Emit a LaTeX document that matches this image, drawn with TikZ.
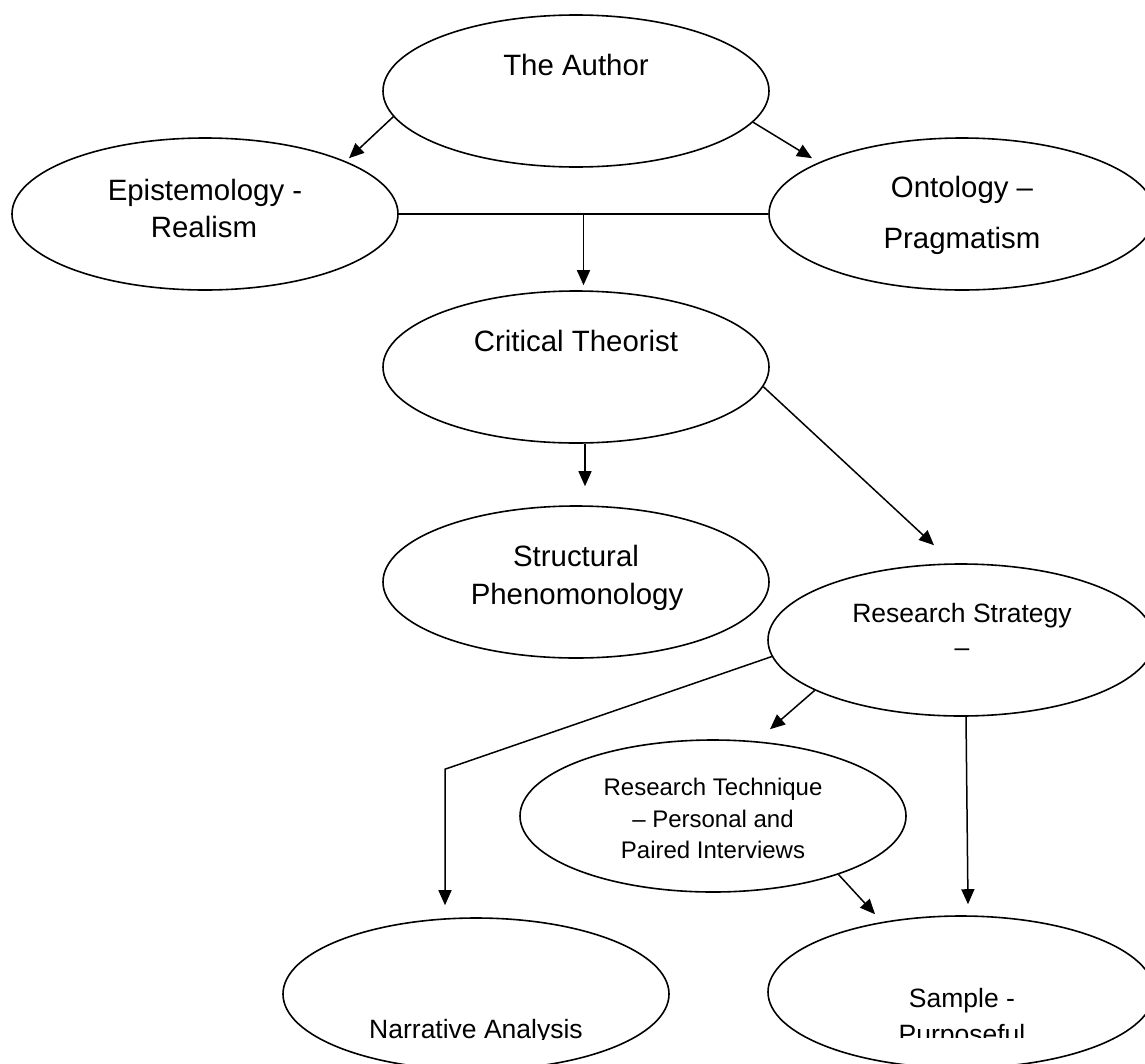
\documentclass[tikz,border=0pt]{standalone}
\usepackage{fontspec}
\setmainfont{Liberation Sans}
\usetikzlibrary{shapes.geometric,arrows.meta,calc}
\begin{document}
\begin{tikzpicture}[x=1pt,y=-1pt,
  oval/.style={ellipse,draw,line width=1.6pt,minimum width=386pt,minimum height=152pt,inner sep=0pt},
  conn/.style={line width=1.5pt},
  arr/.style={conn,-{Triangle[length=15pt,width=13pt]}},
  bigtxt/.style={font=\fontsize{29.4pt}{35pt}\selectfont,anchor=base,inner sep=0pt},
  medtxt/.style={font=\fontsize{26.5pt}{32pt}\selectfont,anchor=base,inner sep=0pt},
  rttxt/.style={font=\fontsize{24pt}{29pt}\selectfont,anchor=base,inner sep=0pt}]
\clip (0,0) rectangle (1145,1063);
\fill[white] (0,0) rectangle (1145,1063);
% ellipses
\node[oval] (author) at (576,91) {};
\node[oval] (epist) at (205,214) {};
\node[oval] (ont) at (962,214) {};
\node[oval] (crit) at (576,367) {};
\node[oval] (struct) at (576,582) {};
\node[oval] (rs) at (961,640) {};
\node[oval] (rt) at (713,816) {};
\node[oval] (narr) at (476,994) {};
\node[oval] (sample) at (961,992) {};
% texts
\node[bigtxt] (tAuthor) at (576,75) {The Author};
\node[bigtxt] (tEp1) at (205,200) {Epistemology -};
\node[bigtxt] (tEp2) at (204,237) {Realism};
\node[bigtxt] (tOn1) at (962,197) {Ontology –};
\node[bigtxt] (tOn2) at (962,248) {Pragmatism};
\node[bigtxt] (tCrit) at (576,351) {Critical Theorist};
\node[bigtxt] (tSt1) at (576,566) {Structural};
\node[bigtxt] (tSt2) at (577,604) {Phenomonology};
\node[medtxt] (tRs1) at (962,622) {Research Strategy};
\node[medtxt] (tRs2) at (962,656) {–};
\node[rttxt] (tRt1) at (713,795) {Research Technique};
\node[rttxt] (tRt2) at (713,827) {– Personal and};
\node[rttxt] (tRt3) at (713,858) {Paired Interviews};
\begin{scope}
\clip (0,0) rectangle (700,1039);
\node[medtxt] (tNar) at (476,1038) {Narrative Analysis};
\end{scope}
\begin{scope}
\clip (700,0) rectangle (1145,1037);
\node[medtxt] (tSa1) at (962,1007) {Sample -};
\node[medtxt] (tSa2) at (962,1043) {Purposeful};
\end{scope}
% connectors
\draw[arr] (author.188) -- ($(epist.north)+(144,21)$);
\draw[arr] (author.350) -- ($(ont.north)+(-150,21)$);
\draw[conn] (epist.east) -- (ont.west);
\coordinate (join) at ($(epist.east)!0.5!(ont.west)$);
\coordinate (critin) at ($(crit.north)+(0,-5)$);
\draw[arr] (join) -- (join |- critin);
\draw[arr] ($(crit.south)+(9,0)$) -- ($(struct.north)+(9,-19)$);
\draw[arr] (crit.354) -- ($(rs.north)+(-27,-18)$);
\draw[arr] (rs.185) -- ($(narr.north)+(-31,-148)$) -- ($(narr.north)+(-31,-12)$);
\draw[arr] (rs.199) -- ($(rt.north)+(57,-10)$);
\draw[arr] ($(rs.south)+(5,0)$) -- ($(sample.north)+(7,-11)$);
\draw[arr] (rt.335) -- ($(sample.north)+(-86,-1)$);
\end{tikzpicture}
\end{document}
